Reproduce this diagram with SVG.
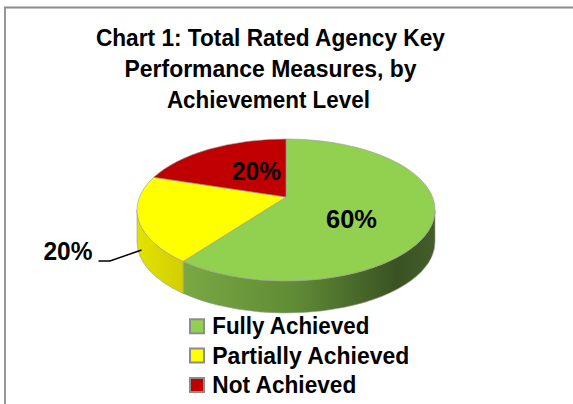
<svg xmlns="http://www.w3.org/2000/svg" width="573" height="404" viewBox="0 0 573 404">
<defs>
<style>
.t{font-family:"Liberation Sans",Arial,sans-serif;font-weight:bold;fill:#000}
.title{font-size:23px;text-anchor:middle}
.pct{font-size:25px;text-anchor:middle}
.leg{font-size:23px}
.sw{stroke:#8c8c8c;stroke-width:2}
.edge{stroke:#9a9a9a;stroke-width:0.6;stroke-linejoin:round}
</style>
<linearGradient id="gSide" x1="183" y1="0" x2="435" y2="0" gradientUnits="userSpaceOnUse">
<stop offset="0" stop-color="#7aa843"/>
<stop offset="0.45" stop-color="#5f8b35"/>
<stop offset="0.85" stop-color="#3a5223"/>
<stop offset="1" stop-color="#435e29"/>
</linearGradient>
<linearGradient id="ySide" x1="137" y1="0" x2="184" y2="0" gradientUnits="userSpaceOnUse">
<stop offset="0" stop-color="#e2e200"/>
<stop offset="1" stop-color="#d2ce00"/>
</linearGradient>
</defs>
<rect width="573" height="404" fill="#fff"/>
<path d="M5,404 V7.5 H573" fill="none" stroke="#8c8c8c" stroke-width="1.8"/>
<g id="title" class="t title">
<text x="270.4" y="45.7" textLength="349" lengthAdjust="spacingAndGlyphs">Chart 1: Total Rated Agency Key</text>
<text x="270.5" y="76.7" textLength="292" lengthAdjust="spacingAndGlyphs">Performance Measures, by</text>
<text x="268.4" y="108.3" textLength="203" lengthAdjust="spacingAndGlyphs">Achievement Level</text>
</g>
<g id="pie">
<g id="slice-fully">
<path class="edge" fill="url(#gSide)" d="M183.2,261.4 A149,71 0 0 0 435,210 L435,242 A149,71 0 0 1 183.2,293.4 Z"/>
<path class="edge" fill="#92d050" d="M286,197 L286,139 A149,71 0 1 1 183.2,261.4 Z"/>
<text class="t pct" x="351.5" y="228" textLength="51" lengthAdjust="spacingAndGlyphs">60%</text>
</g>
<g id="slice-partially">
<path class="edge" fill="url(#ySide)" d="M137,210 A149,71 0 0 0 183.2,261.4 L183.2,293.4 A149,71 0 0 1 137,242 Z"/>
<path class="edge" fill="#ffff00" d="M286,197 L183.2,261.4 A149,71 0 0 1 153.7,177.3 Z"/>
<text class="t pct" x="68" y="259.5" textLength="49" lengthAdjust="spacingAndGlyphs">20%</text>
</g>
<g id="slice-not">
<path class="edge" fill="#c00000" d="M286,197 L153.7,177.3 A149,71 0 0 1 286,139 Z"/>
<text class="t pct" x="256.5" y="180" textLength="49" lengthAdjust="spacingAndGlyphs">20%</text>
</g>
</g>
<g id="connectors">
<polyline points="98.5,261 110,261 141.5,250" fill="none" stroke="#000" stroke-width="1.5"/>
</g>
<g id="legend">
<g id="legend-fully">
<rect class="sw" x="190" y="319.3" width="14" height="14" fill="#92d050"/>
<text class="t leg" x="212.3" y="334.3" textLength="157" lengthAdjust="spacingAndGlyphs">Fully Achieved</text>
</g>
<g id="legend-partially">
<rect class="sw" x="190" y="348.5" width="14" height="14" fill="#ffff00"/>
<text class="t leg" x="212.3" y="363.5" textLength="197" lengthAdjust="spacingAndGlyphs">Partially Achieved</text>
</g>
<g id="legend-not">
<rect class="sw" x="190" y="378" width="14" height="14" fill="#c00000"/>
<text class="t leg" x="212.3" y="392.7" textLength="144" lengthAdjust="spacingAndGlyphs">Not Achieved</text>
</g>
</g>
</svg>
